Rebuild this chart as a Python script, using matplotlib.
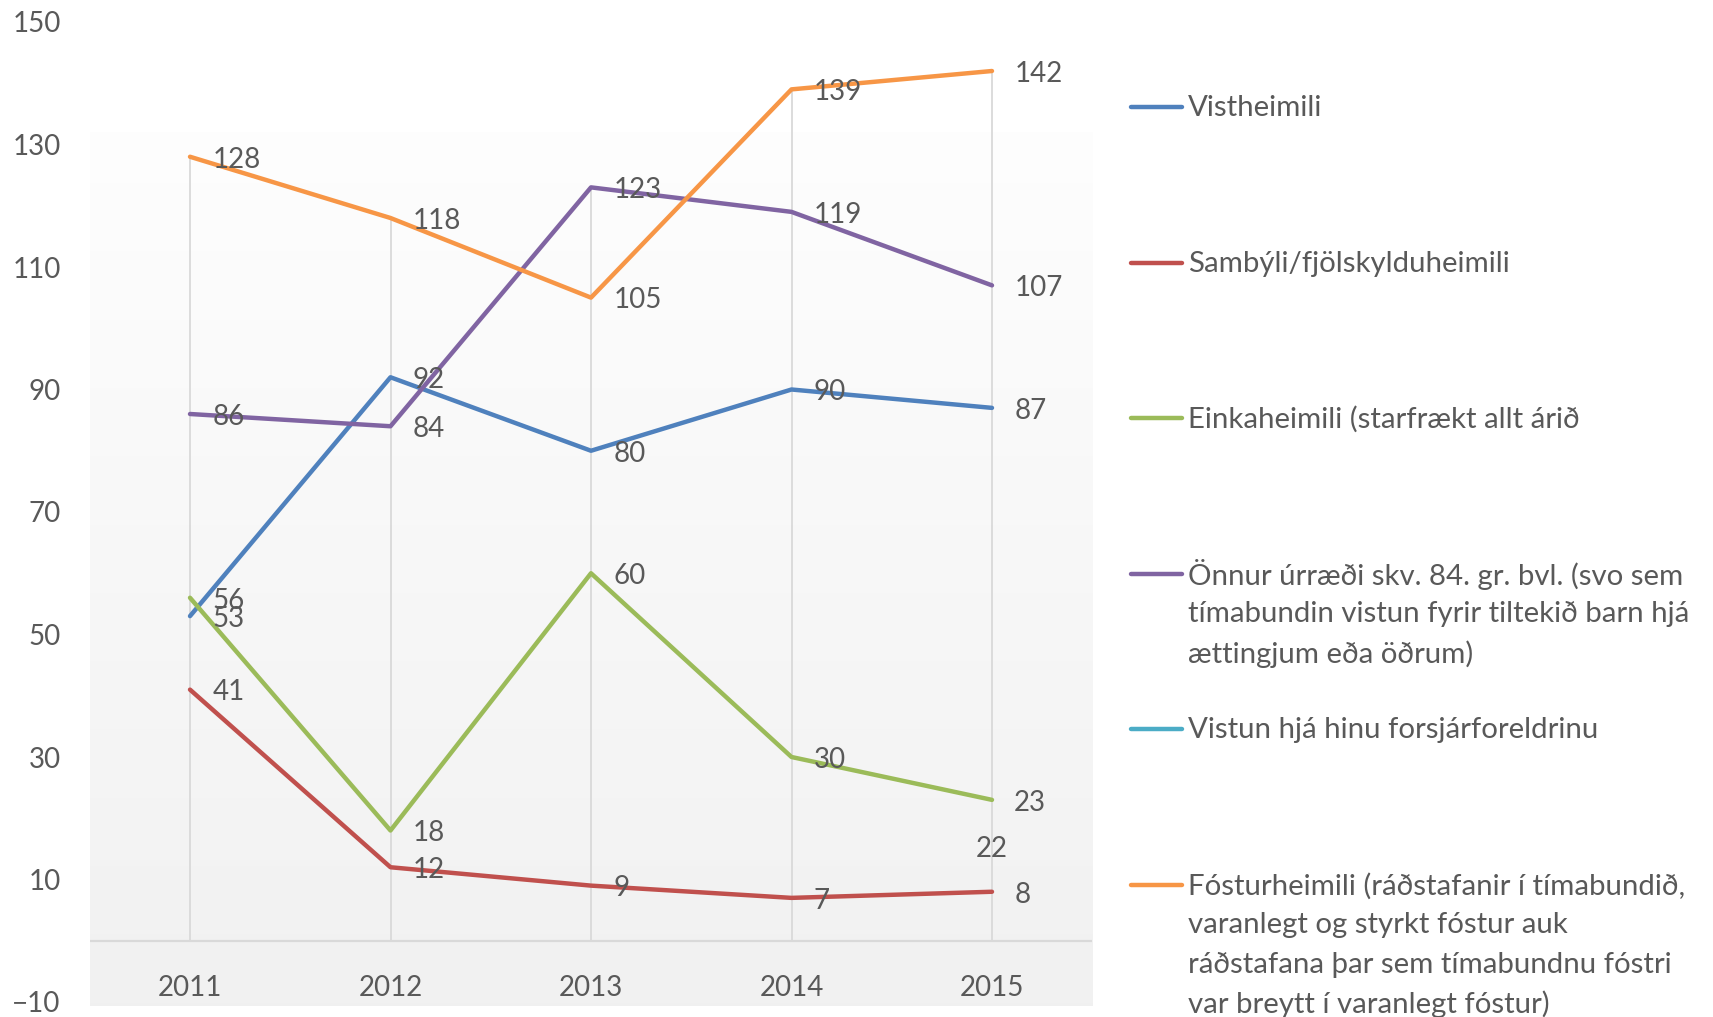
import numpy as np
import matplotlib.pyplot as plt
from matplotlib.lines import Line2D

plt.rcParams['font.family'] = ['Lato', 'DejaVu Sans']

years = ['2011', '2012', '2013', '2014', '2015']
vistheimili = [53, 92, 80, 90, 87]
sambyli = [41, 12, 9, 7, 8]
einkaheimili = [56, 18, 60, 30, 23]
onnur = [86, 84, 123, 119, 107]
vistun = [np.nan, np.nan, np.nan, np.nan, 22]
fosturheimili = [128, 118, 105, 139, 142]

series_names = [
    'Vistheimili',
    'Sambýli/fjölskylduheimili',
    'Einkaheimili (starfrækt allt árið',
    'Önnur úrræði skv. 84. gr. bvl. (svo sem\ntímabundin vistun fyrir tiltekið barn hjá\nættingjum eða öðrum)',
    'Vistun hjá hinu forsjárforeldrinu',
    'Fósturheimili (ráðstafanir í tímabundið,\nvaranlegt og styrkt fóstur auk\nráðstafana þar sem tímabundnu fóstri\nvar breytt í varanlegt fóstur)',
]
series_values = [vistheimili, sambyli, einkaheimili, onnur, vistun, fosturheimili]
colors = ['#4f81bd', '#c0504d', '#9bbb59', '#8064a2', '#4bacc6', '#f79646']
# data label offsets in points (right of point, or below for the lone cyan one)
label_offsets = [(16, -2), (16, -2), (16, -2), (16, -2), (0, -31), (16, -2)]

txt = '#595959'
W, H = 1713, 1017
fig = plt.figure(figsize=(W / 100, H / 100), dpi=100)
ax = fig.add_axes([89.75 / W, 15 / H, (1092.25 - 89.75) / W, (1002 - 22) / H])
ax.set_xlim(-0.5, 4.5)
ax.set_ylim(-10, 150)
ax.patch.set_alpha(0)
for s in ax.spines.values():
    s.set_visible(False)

# gradient plot area
grad = np.linspace(0, 1, 256).reshape(-1, 1)
top = np.array([0.995, 0.995, 0.995])
bot = np.array([0.945, 0.945, 0.945])
img = top + (bot - top) * grad[..., None]
ax.imshow(img, extent=[-0.5, 4.5, -10.7, 131.9], aspect='auto', origin='upper',
          zorder=0, clip_on=False)

x = np.arange(len(years))
# drop lines from highest value down to axis
tops = np.nanmax(np.array(series_values, dtype=float), axis=0)
ax.vlines(x, 0, tops, color='#d9d9d9', lw=1.3, zorder=1)
ax.axhline(0, color='#d9d9d9', lw=1.6, zorder=1)

for vals, c, off in zip(series_values, colors, label_offsets):
    ax.plot(x, vals, color=c, lw=3.2, zorder=3, solid_capstyle='round')
    for xi, v in zip(x, vals):
        if np.isnan(v):
            continue
        ax.annotate(f'{v:g}', (xi, v), xytext=off, textcoords='offset points',
                    ha='left' if off[0] else 'center', va='center',
                    fontsize=20, color=txt, zorder=4)

for xi, yr in zip(x, years):
    ax.text(xi, -7.7, yr, ha='center', va='center', fontsize=20, color=txt)

ax.set_xticks([])
ax.set_yticks(range(-10, 151, 20))
ax.tick_params(axis='y', length=0, pad=21, labelsize=20, labelcolor=txt)

# legend
for i, (name, c) in enumerate(zip(series_names, colors)):
    y0 = 107 + i * 155.6
    fig.add_artist(Line2D([1131 / W, 1182 / W], [1 - y0 / H, 1 - y0 / H],
                          color=c, lw=3.2, solid_capstyle='round'))
    for k, line in enumerate(name.split('\n')):
        fig.text(1188 / W, 1 - (y0 + 1 + k * 39.5) / H, line, ha='left', va='center',
                 fontsize=21.2, color=txt)

fig.savefig('out.png', dpi=100)
